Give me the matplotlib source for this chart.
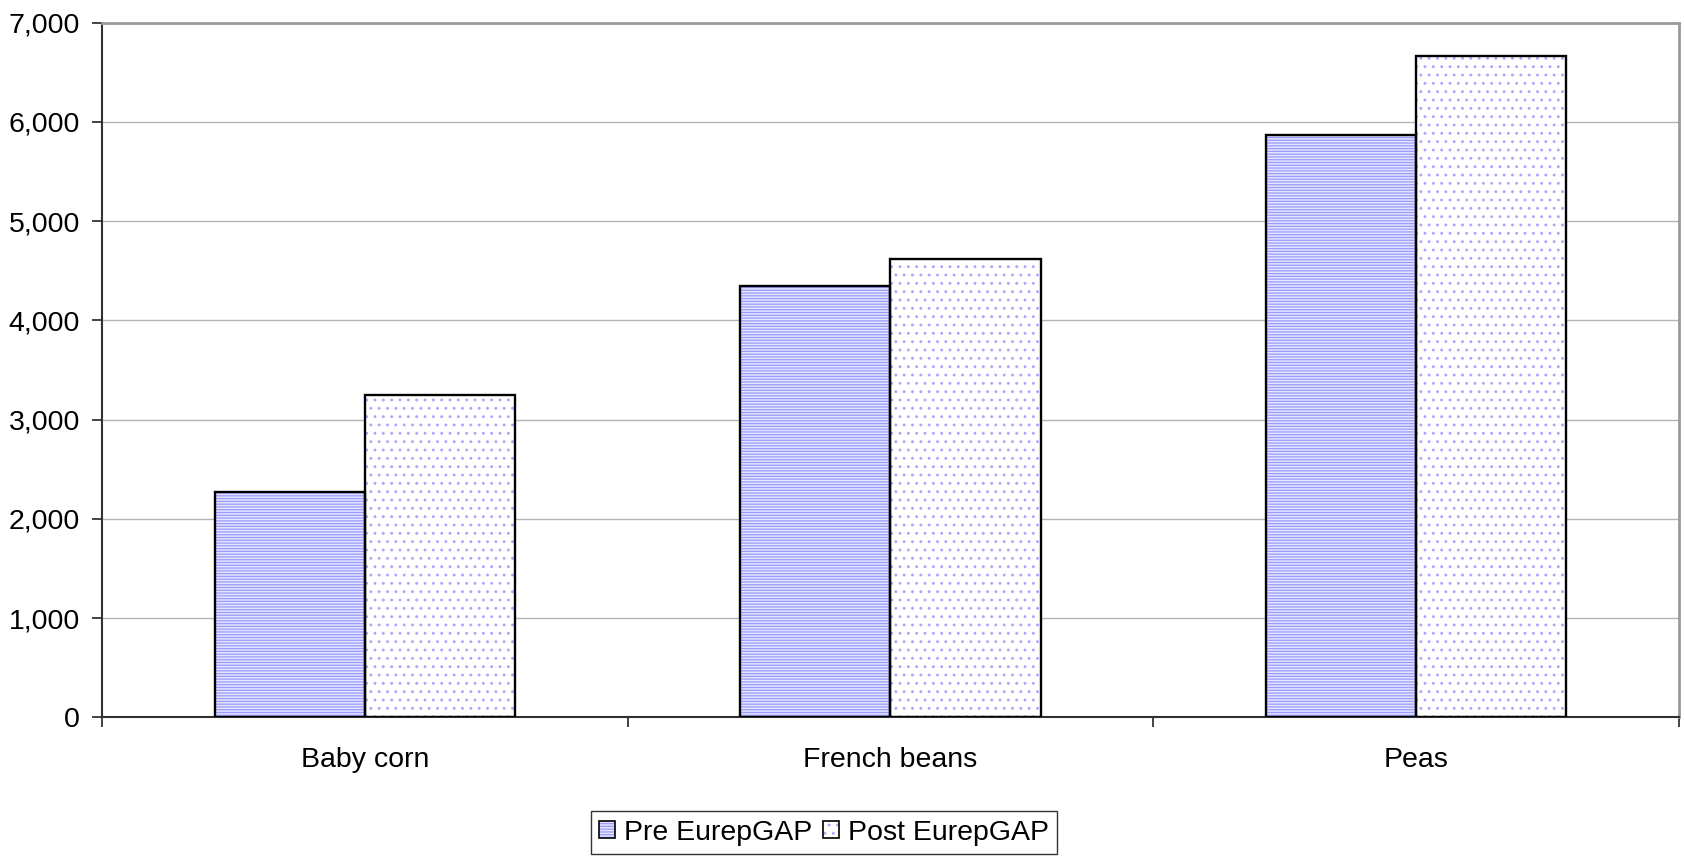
import numpy as np
import matplotlib
matplotlib.use("Agg")
import matplotlib.pyplot as plt
from matplotlib.patches import Patch
from matplotlib.ticker import FuncFormatter, MultipleLocator

plt.rcParams['font.family'] = ['Liberation Sans', 'DejaVu Sans']
plt.rcParams['hatch.linewidth'] = 0.9

# data
crops = ['Baby corn', 'French beans', 'Peas']
pre_eurepgap = [2270, 4350, 5865]
post_eurepgap = [3250, 4615, 6665]
series_names = ['Pre EurepGAP', 'Post EurepGAP']

fig = plt.figure(figsize=(16.84, 8.56), dpi=100)
ax = fig.add_axes([0.0606, 0.1618, 0.9364, 0.8119])

x = np.arange(len(crops))
w = 1 / 3.5
hatch_col = '#9a9aff'
dot_col = '#a8a8ff'

# fill + hatch pass, then black outline pass
ax.bar(x - w / 2, pre_eurepgap, w, color='#e4e4ff', edgecolor=hatch_col,
       hatch='------', linewidth=0, zorder=2)
ax.bar(x + w / 2, post_eurepgap, w, color='white', edgecolor=dot_col,
       hatch='..', linewidth=0, zorder=2)
ax.bar(x - w / 2, pre_eurepgap, w, fill=False, edgecolor='black',
       linewidth=1.7, zorder=3)
ax.bar(x + w / 2, post_eurepgap, w, fill=False, edgecolor='black',
       linewidth=1.7, zorder=3)

ax.set_xlim(-0.5, len(crops) - 0.5)
ax.set_ylim(0, 7000)
ax.yaxis.set_major_locator(MultipleLocator(1000))
ax.yaxis.set_major_formatter(FuncFormatter(lambda v, p: f'{int(v):,}'))
ax.grid(axis='y', color='#b4b4b4', linewidth=1.0, zorder=0)

# category boundaries carry the tick marks, labels sit on minor ticks
ax.set_xticks(np.arange(len(crops) + 1) - 0.5)
ax.set_xticklabels([])
ax.set_xticks(x, minor=True)
ax.set_xticklabels(crops, minor=True)
ax.tick_params(axis='x', which='major', length=7, width=1.2, color='#222222')
ax.tick_params(axis='x', which='minor', length=0, pad=21.5, labelsize=20.5)
ax.tick_params(axis='y', length=7, width=1.2, color='#222222', pad=9,
               labelsize=20.5)

for s in ['left', 'bottom']:
    ax.spines[s].set_color('#303030')
    ax.spines[s].set_linewidth(1.5)
for s in ['top', 'right']:
    ax.spines[s].set_color('#9a9a9a')
    ax.spines[s].set_linewidth(2.0)

handles = [
    (Patch(facecolor='#e4e4ff', edgecolor=hatch_col, hatch='------', lw=0),
     Patch(fill=False, edgecolor='black', lw=1.2)),
    (Patch(facecolor='white', edgecolor=dot_col, hatch='..', lw=0),
     Patch(fill=False, edgecolor='black', lw=1.2)),
]
leg = fig.legend(handles, series_names, loc='upper center',
                 bbox_to_anchor=(824 / 1684, 1 - 811 / 856), ncol=2,
                 fontsize=20.5, frameon=True, fancybox=False,
                 edgecolor='black', handlelength=0.55, handleheight=0.55,
                 handletextpad=0.3, columnspacing=0.4, borderpad=0.3,
                 borderaxespad=0)
leg.get_frame().set_linewidth(1.0)

fig.savefig('out.png', dpi=100)
